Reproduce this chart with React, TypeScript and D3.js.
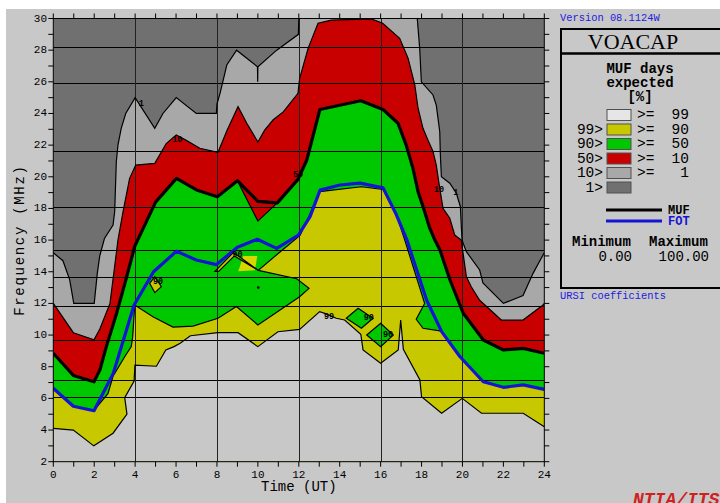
import React from 'react';
import * as d3 from 'd3';

type P = [number, number];

// contour lines: [hour UT, MHz]
const c1: P[] = [
  [0, 15.2], [0.47, 14.7], [0.8, 13.5], [1, 12.0], [2, 12.0], [2.15, 13.9], [2.27, 15.0], [2.5, 16.1],
  [2.92, 16.95], [3.0, 17.8], [3.08, 20.95], [3.16, 22.0], [3.32, 23.06], [3.54, 24.0], [4.0, 25.0],
  [4.96, 23.06], [5.36, 24.0], [6.01, 25.0], [6.99, 24.0], [7.97, 24.0], [8.0, 24.6], [8.15, 25.27],
  [8.48, 27.06], [8.96, 28.0], [9.98, 26.95], [9.99, 26.0], [10.0, 26.95], [10.92, 28.0], [11.98, 29.0],
  [12.0, 30], [17.79, 30], [17.91, 28.1], [17.99, 26.0], [18.56, 25.17], [18.72, 24.53], [18.89, 22.85],
  [18.92, 21.38], [18.97, 20.0], [19.38, 19.59], [19.7, 18.96], [19.9, 18.11], [19.94, 16.95],
  [19.98, 16.0], [20.19, 15.27], [20.84, 14.11], [21.0, 13.3], [22.0, 12.0], [22.96, 12.5],
  [23.45, 13.9], [23.85, 14.85], [24, 15.2],
];

const c10: P[] = [
  [0, 12.0], [0.98, 10.15], [1.99, 9.7], [2.28, 10.4], [2.77, 12.0], [3.1, 15.37], [3.16, 16.0],
  [3.41, 17.8], [3.73, 19.9], [4.03, 20.74], [4.96, 20.85], [5.52, 22.1], [6.01, 22.64], [6.5, 22.3],
  [7.16, 21.8], [8.05, 21.55], [8.5, 22.95], [9.03, 24.43], [9.45, 23.4], [10.0, 22.2], [10.33, 22.95],
  [10.75, 23.6], [11.24, 24.1], [11.96, 25.27], [12.04, 26.2], [12.45, 28.1], [12.94, 29.7],
  [13.59, 29.9], [15.54, 29.97], [16.1, 29.7], [16.93, 28.75], [17.34, 27.5], [17.67, 25.8],
  [17.83, 24.33], [18.07, 23.06], [18.32, 22.3], [18.56, 21.6], [18.72, 20.74], [18.89, 19.27],
  [19.05, 18.0], [19.38, 17.38], [19.62, 16.32], [19.94, 16.0], [20.19, 13.69], [20.43, 13.05],
  [20.84, 12.2], [21.9, 10.95], [22.96, 10.95], [23.94, 11.9], [24, 12.0],
];

const mufLeft: P[] = [
  [0, 8.85], [0.98, 7.45], [1.99, 7.05], [2.28, 7.8], [2.6, 9.3], [3.1, 11.4], [3.55, 13.5],
  [3.98, 15.6], [5.0, 18.4], [6.02, 19.9], [7.0, 19.17], [8.02, 18.74], [9.0, 19.75],
];
const mufMid: P[] = [[10.0, 18.45]];
const dip50: P[] = [[10.0, 17.2]];
const mufRight: P[] = [
  [10.95, 18.35], [11.97, 19.85], [12.39, 21.06], [13.03, 24.25], [15.03, 24.8], [16.12, 24.25],
  [16.85, 23.38], [17.25, 22.0], [17.58, 20.53], [17.83, 19.06], [18.15, 17.8], [18.4, 16.75],
  [18.65, 16.0], [18.9, 15.37], [19.39, 13.48], [20.04, 11.38], [21.02, 9.69], [22.0, 9.06],
  [22.97, 9.16], [24, 8.85],
];
const muf: P[] = [...mufLeft, ...mufMid, ...mufRight];
const c50: P[] = [...mufLeft, ...dip50, ...mufRight];

const c90: P[] = [
  [0, 6.64], [0.98, 5.5], [1.99, 5.24], [2.67, 6.3], [2.92, 7.4], [3.49, 8.63], [3.81, 9.27],
  [3.88, 9.9], [3.98, 11.9], [4.87, 11.16], [5.85, 10.5], [6.83, 10.57], [8.05, 11.06], [8.95, 11.8],
  [10.0, 10.64], [12.04, 12.42], [12.5, 12.95], [11.9, 13.56], [10.02, 14.09], [11.08, 15.25],
  [12.06, 16.3], [12.53, 17.6], [13.02, 19.06], [15.06, 19.37], [16.12, 19.2], [16.77, 17.6],
  [17.18, 16.0], [18.15, 12.0], [17.74, 11.0], [18.07, 10.43], [18.97, 10.25], [19.88, 8.63],
  [20.94, 7.1], [22.0, 6.7], [22.97, 6.85], [24, 6.6],
];

const c99: P[] = [
  [0, 4.11], [0.98, 4.0], [1.98, 3.0], [2.92, 3.8], [3.6, 5.0], [3.49, 6.05], [3.95, 7.1], [3.99, 8.1],
  [5.04, 8.03], [5.5, 9.06], [5.9, 9.27], [6.2, 9.48], [6.7, 9.96], [8.05, 10.15], [9.03, 10.15],
  [10.0, 9.27], [10.98, 10.21], [12.04, 10.36], [13.02, 11.48], [13.27, 11.37], [13.83, 11.06],
  [14.24, 10.95], [15.03, 10.05], [15.14, 9.06], [16.0, 8.22], [16.86, 9.06], [16.98, 10.95],
  [17.11, 9.1], [17.92, 7.16], [18.0, 6.1], [18.98, 5.06], [19.99, 6.0], [20.93, 5.06],
  [22.97, 5.06], [24, 4.21],
];

const fot: P[] = [
  [0, 6.64], [0.98, 5.5], [1.99, 5.22], [2.93, 7.58], [3.95, 11.9], [4.9, 14.0], [6.02, 15.3],
  [6.99, 14.74], [7.97, 14.45], [9.0, 15.55], [9.97, 16.05], [10.92, 15.48], [11.98, 16.32],
  [12.55, 17.48], [13.04, 19.16], [14.01, 19.48], [14.99, 19.6], [16.12, 19.3], [16.77, 17.6],
  [17.26, 16.1], [18.25, 12.2], [18.99, 10.2], [19.88, 8.63], [21.02, 7.05], [22.0, 6.7],
  [22.97, 6.85], [24, 6.57],
];

// islands
const greenIslands: P[][] = [
  [[14.32, 11.06], [14.9, 11.69], [15.63, 11.06], [15.06, 10.43]],
  [[15.32, 10.0], [16.0, 10.74], [16.62, 10.0], [16.0, 9.27]],
];
const yellowIslands: P[][] = [
  [[4.71, 13.27], [4.96, 13.69], [5.28, 13.06], [4.96, 12.68]],
  [[7.9, 14.02], [8.8, 15.22], [10.02, 14.09], [8.85, 15.0], [8.08, 14.02]],
];
const yellowPatch: P[] = [[9.04, 14.03], [9.29, 15.0], [9.97, 15.0], [9.86, 14.09]];
const dot: P = [10.02, 13.0];

const contourLabels: { t: string; h: number; f: number }[] = [
  { t: '1', h: 4.3, f: 24.6 },
  { t: '10', h: 6.06, f: 22.3 },
  { t: '50', h: 11.96, f: 20.1 },
  { t: '90', h: 5.12, f: 13.35 },
  { t: '90', h: 9.0, f: 15.04 },
  { t: '99', h: 13.48, f: 11.13 },
  { t: '90', h: 15.42, f: 11.06 },
  { t: '90', h: 16.36, f: 10.0 },
  { t: '10', h: 18.85, f: 19.15 },
  { t: '1', h: 19.67, f: 18.96 },
];

const freqGrid = [6.1, 7.15, 9.7, 11.85, 13.7, 15.4, 18.1, 21.65, 25.9, 28.2];
const hourGrid = [4, 8, 12, 16, 20];
const hourTicks = d3.range(0, 25);
const hourLabels = d3.range(0, 25, 2);
const freqTicks = d3.range(2, 31);
const freqLabels = d3.range(2, 31, 2);

const legendLeft = ['', '99>', '90>', '50>', '10>', '1>'];
const legendRight = ['99', '90', '50', '10', '1', ''];

const COL = {
  bg: '#c8c8c8',
  dark: '#707070',
  gray: '#a8a8a8',
  red: '#c80000',
  green: '#00c800',
  yellow: '#c8c800',
  light: '#c8c8c8',
  blue: '#1414d4',
};
const legendColors = ['#e6e6e6', COL.yellow, COL.green, COL.red, COL.gray, COL.dark];

const x = d3.scaleLinear().domain([0, 24]).range([53.3, 544.3]);
const y = d3.scaleLinear().domain([2, 30]).range([461.7, 18.5]);
const line = d3.line<P>().x(d => x(d[0])).y(d => y(d[1]));
const band = (pts: P[]) => line([...pts, [24, 2], [0, 2]]) + 'Z';
const poly = (pts: P[]) => line(pts) + 'Z';

const mono = '"Liberation Mono", "DejaVu Sans Mono", monospace';

export default function App() {
  const [x0, x1] = x.range();
  const [y0, y1] = y.range();
  return (
    <>
      <style>{'body{margin:0}'}</style>
      <svg width={720} height={503} style={{ display: 'block' }} fontFamily={mono}>
        <defs>
          <clipPath id="plot">
            <rect x={x0} y={y1} width={x1 - x0} height={y0 - y1} />
          </clipPath>
        </defs>
        <rect width={720} height={503} fill="#fff" />
        <rect x={6} y={9} width={714} height={494} fill={COL.bg} />

        <g clipPath="url(#plot)">
          <rect x={x0} y={y1} width={x1 - x0} height={y0 - y1} fill={COL.dark} />
          <path d={band(c1)} fill={COL.gray} />
          <path d={band(c10)} fill={COL.red} />
          <path d={band(c50)} fill={COL.green} />
          <path d={band(c90)} fill={COL.yellow} />
          <path d={band(c99)} fill={COL.light} />
          {greenIslands.map((p, i) => <path key={'g' + i} d={poly(p)} fill={COL.green} />)}
          {yellowIslands.map((p, i) => <path key={'y' + i} d={poly(p)} fill={COL.yellow} />)}
          <path d={poly(yellowPatch)} fill="#d6d600" />

          {freqGrid.map(f => (
            <line key={f} x1={x0} x2={x1} y1={Math.round(y(f)) + 0.5} y2={Math.round(y(f)) + 0.5} stroke="#000" strokeWidth={1} />
          ))}
          {hourGrid.map(h => (
            <line key={h} x1={Math.round(x(h)) + 0.5} x2={Math.round(x(h)) + 0.5} y1={y1} y2={y0} stroke="#222" strokeWidth={1} />
          ))}

          {[c1, c10, c90, c99].map((c, i) => (
            <path key={'c' + i} d={line(c) || ''} fill="none" stroke="#000" strokeWidth={1.2} />
          ))}
          <path d={line([mufLeft[mufLeft.length - 1], ...dip50, mufRight[0]]) || ''} fill="none" stroke="#000" strokeWidth={1.2} />
          {[...greenIslands, ...yellowIslands].map((p, i) => (
            <path key={'o' + i} d={poly(p)} fill="none" stroke="#000" strokeWidth={1.2} />
          ))}
          <circle cx={x(dot[0])} cy={y(dot[1])} r={1.3} fill="#000" />

          <path d={line(muf) || ''} fill="none" stroke="#000" strokeWidth={3.2} strokeLinejoin="round" />
          <path d={line(fot) || ''} fill="none" stroke={COL.blue} strokeWidth={3.2} strokeLinejoin="round" />

          {contourLabels.map((l, i) => (
            <text key={i} x={x(l.h)} y={y(l.f)} fontSize={8.5} fontWeight="bold" textAnchor="middle" dominantBaseline="central" fill="#000">
              {l.t}
            </text>
          ))}
        </g>

        {/* frame and ticks */}
        <rect x={x0} y={y1} width={x1 - x0} height={y0 - y1} fill="none" stroke="#000" strokeWidth={1} />
        {hourTicks.map(h => (
          <g key={h}>
            <line x1={x(h)} x2={x(h)} y1={y0} y2={y0 + 5} stroke="#000" />
            <line x1={x(h)} x2={x(h)} y1={y1} y2={y1 - 5} stroke="#000" />
          </g>
        ))}
        {hourLabels.map(h => (
          <text key={h} x={x(h)} y={478} fontSize={11} textAnchor="middle" fill="#000">{h}</text>
        ))}
        {freqTicks.map(f => (
          <g key={f}>
            <line x1={x0 - 5} x2={x0} y1={y(f)} y2={y(f)} stroke="#000" />
            <line x1={x1} x2={x1 + 5} y1={y(f)} y2={y(f)} stroke="#000" />
          </g>
        ))}
        {freqLabels.map(f => (
          <text key={f} x={47} y={y(f)} fontSize={11} textAnchor="end" dominantBaseline="central" fill="#000">{f}</text>
        ))}
        <text x={(x0 + x1) / 2} y={491} fontSize={14} textAnchor="middle" fill="#000">Time (UT)</text>
        <text transform={`translate(24,${(y0 + y1) / 2}) rotate(-90)`} fontSize={14} letterSpacing={1.7} textAnchor="middle" fill="#000">
          Frequency (MHz)
        </text>

        {/* legend panel */}
        <text x={560} y={21} fontSize={10.4} fill="#2020e0">Version 08.1124W</text>
        <rect x={561} y={29} width={170} height={259} fill="none" stroke="#000" strokeWidth={2} />
        <line x1={561} x2={722} y1={53.5} y2={53.5} stroke="#000" strokeWidth={2.5} />
        <text x={633} y={49} fontSize={22} fontFamily='"Liberation Serif", serif' textAnchor="middle" fill="#000">VOACAP</text>
        <text x={640} y={73} fontSize={14} fontWeight="bold" textAnchor="middle" fill="#000">MUF days</text>
        <text x={640} y={87} fontSize={14} fontWeight="bold" textAnchor="middle" fill="#000">expected</text>
        <text x={640} y={101} fontSize={14} fontWeight="bold" textAnchor="middle" fill="#000">[%]</text>
        {legendColors.map((c, i) => {
          const cy = 115 + i * 14.5;
          return (
            <g key={i}>
              <rect x={607} y={cy - 5.5} width={24} height={11} fill={c} stroke="#505050" strokeWidth={1} />
              <text x={603} y={cy} fontSize={14.5} textAnchor="end" dominantBaseline="central" fill="#000">{legendLeft[i]}</text>
              {legendRight[i] && (
                <>
                  <text x={637} y={cy} fontSize={14.5} dominantBaseline="central" fill="#000">{'>='}</text>
                  <text x={689} y={cy} fontSize={14.5} textAnchor="end" dominantBaseline="central" fill="#000">{legendRight[i]}</text>
                </>
              )}
            </g>
          );
        })}
        <line x1={606} x2={662} y1={210} y2={210} stroke="#000" strokeWidth={3} />
        <text x={668} y={213.5} fontSize={12} fontWeight="bold" fill="#000">MUF</text>
        <line x1={606} x2={662} y1={221} y2={221} stroke={COL.blue} strokeWidth={3} />
        <text x={668} y={225} fontSize={12} fontWeight="bold" fill={COL.blue}>FOT</text>
        <text x={572} y={246} fontSize={14} fontWeight="bold" fill="#000">Minimum</text>
        <text x={649} y={246} fontSize={14} fontWeight="bold" fill="#000">Maximum</text>
        <text x={632} y={261} fontSize={14} textAnchor="end" fill="#000">0.00</text>
        <text x={709} y={261} fontSize={14} textAnchor="end" fill="#000">100.00</text>
        <text x={560} y={299} fontSize={10.4} fill="#2020e0">URSI coefficients</text>
        <text x={633} y={505} fontSize={18} fontWeight="bold" fontStyle="italic" fill="#d02020">NTIA/ITS</text>
      </svg>
    </>
  );
}
